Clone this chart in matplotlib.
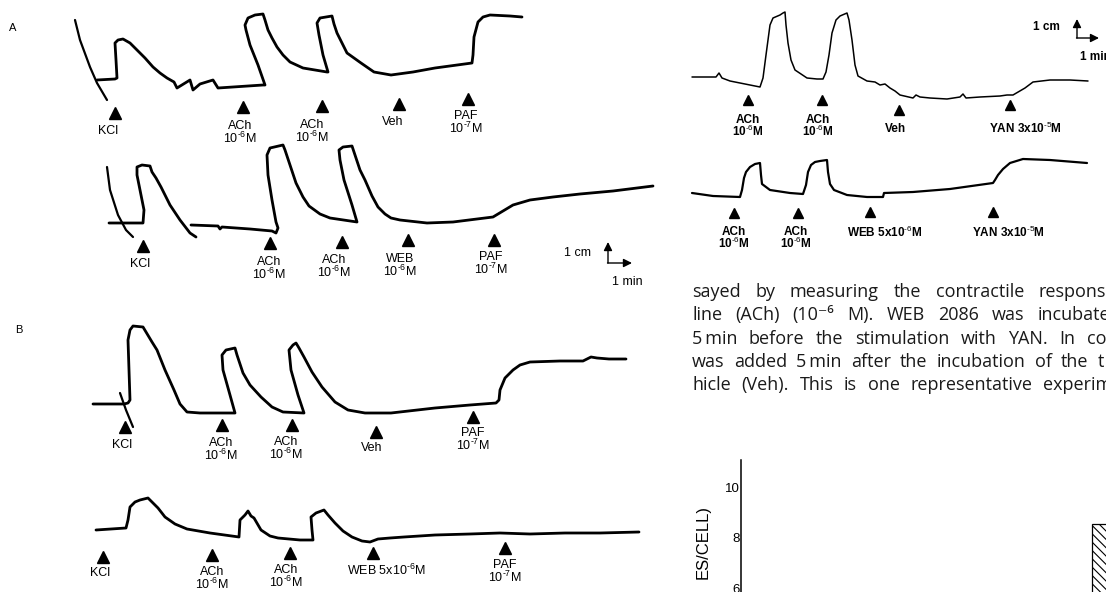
import numpy as np
import matplotlib

matplotlib.use("Agg")
import matplotlib.pyplot as plt

plt.rcParams["font.family"] = ["Liberation Sans", "DejaVu Sans"]
plt.rcParams["mathtext.fontset"] = "custom"
plt.rcParams["mathtext.rm"] = "Liberation Sans"
plt.rcParams["mathtext.it"] = "Liberation Sans"
plt.rcParams["mathtext.bf"] = "Liberation Sans:bold"
plt.rcParams["hatch.linewidth"] = 0.8

nan = np.nan

# ---- recorder traces (x = chart paper position, y = pen height) ----
# panel A, upper trace
a1_arc_x = [75, 80, 90, 97, 107]
a1_arc_y = [20, 40, 67, 83, 100]
a1_x = [97, 115, 117, 116, 115, 118, 123, 130, 137, 145, 153, 160, 167, 174, 177, 190, 193, 200,
        213, 218, 263, 265, 258, 250, 246, 245, 248, 255, 263, 265, 268, 272, 277, 283, 290, 303,
        327, 328, 323, 319, 317, 320, 332, 334, 337, 342, 347, 354, 361, 374, 391, 413, 435, 472,
        473, 474, 478, 483, 490, 510, 522]
a1_y = [80, 79, 78, 60, 43, 40, 39, 43, 50, 58, 67, 73, 78, 82, 88, 80, 90, 84,
        80, 88, 85, 85, 65, 45, 30, 25, 18, 15, 14, 20, 30, 38, 47, 55, 62, 68,
        72, 72, 55, 35, 23, 18, 16, 24, 33, 43, 53, 58, 63, 72, 75, 72, 68, 63,
        55, 37, 22, 17, 15, 16, 17]

# panel A, lower trace
a2_arc_x = [107, 110, 118, 126, 133]
a2_arc_y = [167, 190, 215, 230, 237]
a2_x = [109, 143, 144, 140, 137, 137, 142, 150, 152, 156, 161, 170, 180, 190, 196, nan,
        191, 218, 220, 222, 250, 272, 276, 278, 276, 272, 268, 267, 270, 283, 285, 290, 296,
        303, 309, 320, 330, 357, 352, 344, 340, 339, 343, 352, 355, 360, 365, 372, 378, 385,
        391, 400, 427, 453, 493, 513, 530, 553, 580, 613, 653]
a2_y = [223, 223, 210, 190, 175, 167, 165, 166, 172, 178, 187, 205, 220, 233, 237, nan,
        225, 226, 229, 227, 229, 231, 233, 228, 222, 200, 175, 155, 148, 145, 150, 165, 183,
        197, 206, 214, 218, 222, 205, 180, 160, 150, 147, 146, 155, 170, 180, 196, 207, 214,
        218, 220, 223, 222, 217, 205, 200, 197, 194, 191, 186]

# panel B, upper trace
b1_arc_x = [120, 126, 133]
b1_arc_y = [393, 410, 427]
b1_x = [93, 124, 128, 130, 129, 128, 130, 133, 143, 146, 152, 157, 165, 174, 180, 187, 200, 235,
        230, 223, 222, 226, 235, 237, 243, 250, 261, 272, 283, 304, 298, 291, 289, 293, 296, 299,
        304, 312, 322, 335, 348, 365, 391, 435, 470, 496, 499, 500, 505, 513, 520, 530, 560, 583,
        587, 591, 597, 609, 626]
b1_y = [404, 404, 403, 400, 370, 340, 330, 326, 327, 332, 342, 350, 370, 390, 404, 412, 413, 413,
        395, 370, 355, 350, 348, 355, 373, 385, 397, 407, 412, 413, 395, 370, 350, 345, 343, 348,
        357, 372, 387, 402, 410, 413, 413, 408, 405, 403, 400, 390, 378, 370, 365, 362, 361, 361,
        359, 357, 358, 359, 359]

# panel B, lower trace
b2_x = [96, 126, 128, 130, 135, 140, 148, 152, 158, 165, 175, 187, 210, 239, 240, 245, 248, 251,
        254, 261, 270, 278, 300, 313, 312, 311, 316, 324, 328, 335, 343, 352, 362, 370, 378, 390,
        404, 435, 470, 500, 530, 565, 600, 639]
b2_y = [530, 528, 520, 507, 502, 500, 498, 502, 508, 517, 524, 529, 533, 537, 520, 515, 511, 516,
        518, 530, 536, 538, 540, 540, 530, 517, 513, 510, 515, 523, 531, 537, 541, 542, 539, 538,
        537, 535, 534, 533, 534, 533, 533, 532]

# right column, upper trace
c1_x = [692, 716, 719, 722, 730, 745, 760, 763, 766, 768, 770, 773, 780, 783, 785, 786, 788, 791,
        795, 807, 817, 823, 826, 829, 832, 836, 840, 847, 849, 852, 855, 858, 867, 875, 880, 885,
        890, 895, 900, 913, 916, 920, 930, 947, 960, 963, 966, 980, 1000, 1007, 1013, 1025, 1033,
        1050, 1070, 1088]
c1_y = [77, 77, 73, 78, 81, 84, 87, 78, 55, 40, 25, 18, 15, 13, 12, 25, 43, 60,
        70, 78, 79, 79, 72, 55, 33, 20, 16, 13, 20, 40, 65, 76, 81, 82, 85, 84,
        88, 91, 95, 98, 95, 97, 98, 99, 97, 94, 98, 97, 96, 95, 95, 88, 82,
        80, 80, 81]

# right column, lower trace
c2_x = [692, 713, 740, 742, 744, 746, 750, 755, 760, 761, 762, 770, 790, 803, 806, 808, 811, 815,
        820, 827, 828, 830, 834, 847, 867, 883, 884, 913, 950, 993, 995, 998, 1003, 1010, 1023,
        1050, 1087]
c2_y = [193, 196, 197, 190, 178, 172, 167, 164, 163, 175, 184, 190, 193, 194, 185, 172, 165, 162,
        161, 160, 172, 184, 190, 195, 197, 197, 193, 192, 189, 183, 180, 175, 169, 163, 159,
        160, 163]

# ---- drug additions (arrowheads) and their labels ----
M6 = "10$^{\\text{-6}}$M"
M7 = "10$^{\\text{-7}}$M"

a1_ev_x = [115, 243, 322, 399, 468]
a1_ev_y = [113, 107, 106, 104, 99]
a1_lab_x = [108, 240, 312, 393, 466]
a1_lab_y = [131, 126, 125, 122, 116]
a1_labels = ["KCl", "ACh\n" + M6, "ACh\n" + M6, "Veh", "PAF\n" + M7]

a2_ev_x = [143, 270, 342, 408, 494]
a2_ev_y = [246, 243, 242, 240, 240]
a2_lab_x = [140, 269, 334, 400, 491]
a2_lab_y = [264, 262, 260, 259, 257]
a2_labels = ["KCl", "ACh\n" + M6, "ACh\n" + M6, "WEB\n" + M6, "PAF\n" + M7]

b1_ev_x = [125, 222, 292, 376, 473]
b1_ev_y = [427, 425, 425, 432, 417]
b1_lab_x = [122, 221, 286, 372, 473]
b1_lab_y = [445, 443, 442, 448, 433]
b1_labels = ["KCl", "ACh\n" + M6, "ACh\n" + M6, "Veh", "PAF\n" + M7]

b2_ev_x = [103, 212, 290, 373, 505]
b2_ev_y = [557, 555, 553, 553, 548]
b2_lab_x = [100, 212, 286, 386, 505]
b2_lab_y = [573, 572, 570, 570, 565]
b2_labels = ["KCl", "ACh\n" + M6, "ACh\n" + M6, "WEB 5x" + M6, "PAF\n" + M7]

c1_ev_x = [748, 822, 899, 1010]
c1_ev_y = [100, 100, 110, 105]
c1_lab_x = [748, 818, 895, 1025]
c1_lab_y = [120, 120, 129, 128]
c1_labels = ["ACh\n" + M6, "ACh\n" + M6, "Veh", "YAN 3x10$^{\\text{-5}}$M"]

c2_ev_x = [734, 798, 870, 993]
c2_ev_y = [213, 213, 212, 212]
c2_lab_x = [734, 796, 885, 1008]
c2_lab_y = [232, 232, 232, 232]
c2_labels = ["ACh\n" + M6, "ACh\n" + M6, "WEB 5x" + M6, "YAN 3x10$^{\\text{-5}}$M"]

# legend text of the page, as printed (justified, cut at the page edge)
caption_lines = [
    "sayed by measuring the contractile respons",
    "line (ACh) (10\u207b\u2076 M). WEB 2086 was incubate",
    "5\u2009min before the stimulation with YAN. In co",
    "was added 5\u2009min after the incubation of the t",
    "hicle (Veh). This is one representative experim",
]
caption_line_end = [1106, 1110, 1106, 1104, 1112]

# partial bar chart at the bottom right
bar_ticks = [6, 8, 10]
bar_values = [8.55]
bar_pos = [0.962]


fig = plt.figure(figsize=(11.06, 5.92), dpi=100)
ax = fig.add_axes([0, 0, 1, 1])
ax.set_xlim(0, 1106)
ax.set_ylim(592, 0)
ax.axis("off")

trace_kw = dict(color="black", solid_joinstyle="round", solid_capstyle="round")
for x, y in [(a1_arc_x, a1_arc_y), (a2_arc_x, a2_arc_y), (b1_arc_x, b1_arc_y)]:
    ax.plot(x, y, lw=1.6, **trace_kw)
for x, y in [(a1_x, a1_y), (a2_x, a2_y), (b1_x, b1_y), (b2_x, b2_y)]:
    ax.plot(x, y, lw=2.0, **trace_kw)
ax.plot(c1_x, c1_y, lw=1.1, **trace_kw)
ax.plot(c2_x, c2_y, lw=1.6, **trace_kw)


def draw_events(ev_x, ev_y, lab_x, lab_y, labels, ms, size, weight, step):
    ax.plot(ev_x, ev_y, ls="none", marker="^", ms=ms, color="black")
    for x, y, lab in zip(lab_x, lab_y, labels):
        for i, line in enumerate(lab.split("\n")):
            ax.text(x, y + i * step, line, ha="center", va="center",
                    fontsize=size, fontweight=weight)


for panel in [(a1_ev_x, a1_ev_y, a1_lab_x, a1_lab_y, a1_labels),
              (a2_ev_x, a2_ev_y, a2_lab_x, a2_lab_y, a2_labels),
              (b1_ev_x, b1_ev_y, b1_lab_x, b1_lab_y, b1_labels),
              (b2_ev_x, b2_ev_y, b2_lab_x, b2_lab_y, b2_labels)]:
    draw_events(*panel, ms=8.5, size=9, weight="normal", step=12.5)
for panel in [(c1_ev_x, c1_ev_y, c1_lab_x, c1_lab_y, c1_labels),
              (c2_ev_x, c2_ev_y, c2_lab_x, c2_lab_y, c2_labels)]:
    draw_events(*panel, ms=7, size=8.5, weight="bold", step=11.5)

# panel letters
ax.text(13, 28, "A", fontsize=8, ha="center", va="center")
ax.text(19, 330, "B", fontsize=8, ha="center", va="center")

# calibration bars (1 cm / 1 min)
arrow_kw = dict(arrowstyle="-|>,head_length=0.5,head_width=0.25", color="black", lw=1.0,
                shrinkA=0, shrinkB=0)
ax.annotate("", xy=(608, 242), xytext=(608, 263), arrowprops=arrow_kw)
ax.annotate("", xy=(632, 263), xytext=(607.5, 263), arrowprops=arrow_kw)
ax.text(577, 253, "1 cm", fontsize=9, ha="center", va="center")
ax.text(627, 282, "1 min", fontsize=9, ha="center", va="center")

ax.annotate("", xy=(1077, 19), xytext=(1077, 38), arrowprops=arrow_kw)
ax.annotate("", xy=(1099, 38), xytext=(1076.5, 38), arrowprops=arrow_kw)
ax.text(1046, 27, "1 cm", fontsize=8.5, fontweight="bold", ha="center", va="center")
ax.text(1080, 57, "1 min", fontsize=8.5, fontweight="bold", ha="left", va="center")

# caption text, words spread out like the justified column
renderer = fig.canvas.get_renderer()
cap_kw = dict(fontsize=13, family=["Open Sans", "DejaVu Sans"], color="#1a1a1a",
              ha="left", va="baseline")
for i, (line, x_end) in enumerate(zip(caption_lines, caption_line_end)):
    y = 297 + 23.25 * i
    words = line.split(" ")
    widths = []
    for w in words:
        t = ax.text(0, 0, w, **cap_kw)
        widths.append(t.get_window_extent(renderer).width)
        t.remove()
    gap = (x_end - 692 - sum(widths)) / (len(words) - 1)
    x = 692
    for w, wd in zip(words, widths):
        ax.text(x, y, w, **cap_kw)
        x += wd + gap

# y-axis title of the cut-off bar chart
ax.text(703, 505, "ES/CELL)", rotation=90, fontsize=12, ha="center", va="top")

bx = fig.add_axes([741 / 1106, 0, (1106 - 741) / 1106, 132 / 592])
bx.set_xlim(0, 1)
bx.set_ylim(5.88, 11.06)
bx.bar(bar_pos, bar_values, width=0.1, bottom=0, align="edge", color="white",
       edgecolor="black", hatch="\\\\\\\\", lw=0.9)
bx.set_yticks(bar_ticks)
bx.set_yticklabels([str(t) for t in bar_ticks], fontsize=9.5)
bx.tick_params(axis="y", length=0, pad=1)
bx.set_xticks([])
for side in ["top", "right", "bottom"]:
    bx.spines[side].set_visible(False)
bx.spines["left"].set_linewidth(1.1)
bx.patch.set_alpha(0)

fig.savefig("out.png", dpi=100)
